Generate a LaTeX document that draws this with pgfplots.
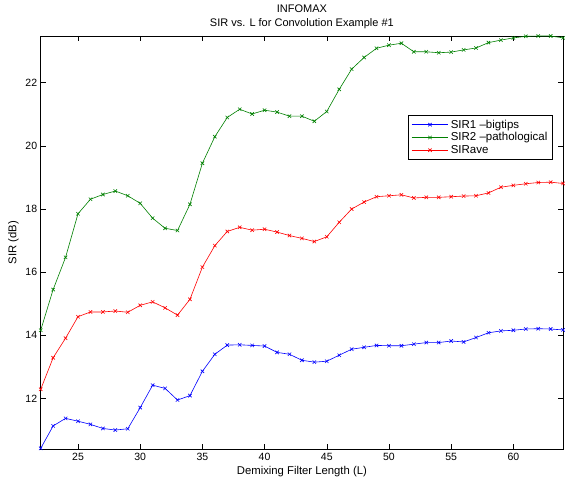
\documentclass[border=0pt]{standalone}
\usepackage{fontspec}
\setmainfont{Liberation Sans}
\usepackage{pgfplots}
\pgfplotsset{compat=1.18}
\definecolor{mgreen}{rgb}{0,0.5,0}
\begin{document}
\begin{tikzpicture}
\begin{axis}[
  name=ax,
  scale only axis,
  width=522.4pt, height=413.3pt,
  xmin=22, xmax=64, ymin=10.39, ymax=23.48,
  xtick={25,30,...,60}, ytick={12,14,...,22},
  tick align=inside, tick pos=both,
  major tick length=5pt,
  tick style={black, line width=0.5pt},
  axis line style={black, line width=0.6pt},
  tick label style={font=\fontsize{10.5}{12}\selectfont},
  label style={font=\fontsize{11.3}{13}\selectfont},
  /pgf/number format/assume math mode=true,
  xlabel={Demixing Filter Length (L)},
  ylabel={SIR (dB)},
  title={INFOMAX\\SIR vs. L for Convolution Example \#1},
  title style={align=center, font=\fontsize{11}{14}\selectfont, yshift=-2pt},
  xlabel style={yshift=1pt},
  ylabel style={yshift=0pt},
  legend cell align=left,
  legend style={at={(0.979,0.809)}, anchor=north east, draw=black, line width=0.6pt,
    font=\fontsize{11.5}{13}\selectfont, row sep=-1pt, inner sep=2.5pt},
  legend image code/.code={\draw[mark repeat=2,mark phase=2] plot coordinates {(0cm,0cm) (0.65cm,0cm) (1.3cm,0cm)};},
  every axis plot/.append style={line width=0.6pt, mark=x, mark size=2.4pt, mark options={solid}},
]
\addplot[blue] coordinates {
(22,10.42)(23,11.13)(24,11.37)(25,11.28)(26,11.18)(27,11.05)(28,11.00)(29,11.04)(30,11.71)(31,12.42)(32,12.32)
(33,11.95)(34,12.09)(35,12.86)(36,13.40)(37,13.69)(38,13.70)(39,13.68)(40,13.66)(41,13.46)(42,13.40)(43,13.21)
(44,13.15)(45,13.18)(46,13.37)(47,13.56)(48,13.62)(49,13.68)(50,13.67)(51,13.67)(52,13.72)(53,13.77)
(54,13.77)(55,13.82)(56,13.79)(57,13.93)(58,14.08)(59,14.14)(60,14.16)(61,14.20)(62,14.21)(63,14.20)(64,14.17)};
\addlegendentry{SIR1 --bigtips}
\addplot[mgreen] coordinates {
(22,14.16)(23,15.45)(24,16.47)(25,17.85)(26,18.31)(27,18.46)(28,18.57)(29,18.42)(30,18.18)(31,17.71)(32,17.39)
(33,17.32)(34,18.15)(35,19.45)(36,20.29)(37,20.90)(38,21.16)(39,21.01)(40,21.13)(41,21.07)(42,20.94)(43,20.94)
(44,20.78)(45,21.09)(46,21.79)(47,22.43)(48,22.80)(49,23.09)(50,23.19)(51,23.25)(52,22.98)(53,22.98)
(54,22.95)(55,22.97)(56,23.04)(57,23.10)(58,23.27)(59,23.35)(60,23.42)(61,23.47)(62,23.48)(63,23.48)(64,23.42)};
\addlegendentry{SIR2 --pathological}
\addplot[red] coordinates {
(22,12.29)(23,13.29)(24,13.91)(25,14.59)(26,14.74)(27,14.74)(28,14.77)(29,14.73)(30,14.95)(31,15.06)(32,14.87)
(33,14.64)(34,15.14)(35,16.16)(36,16.84)(37,17.29)(38,17.42)(39,17.33)(40,17.36)(41,17.27)(42,17.16)(43,17.07)
(44,16.97)(45,17.12)(46,17.58)(47,18.00)(48,18.22)(49,18.39)(50,18.42)(51,18.45)(52,18.35)(53,18.37)
(54,18.37)(55,18.39)(56,18.41)(57,18.42)(58,18.51)(59,18.69)(60,18.75)(61,18.80)(62,18.84)(63,18.85)(64,18.81)};
\addlegendentry{SIRave}
\end{axis}
\pgfresetboundingbox
\path[use as bounding box] ([xshift=-40.7pt,yshift=-35.7pt]ax.south west) rectangle ([xshift=1.9pt,yshift=36pt]ax.north east);
\end{tikzpicture}
\end{document}
